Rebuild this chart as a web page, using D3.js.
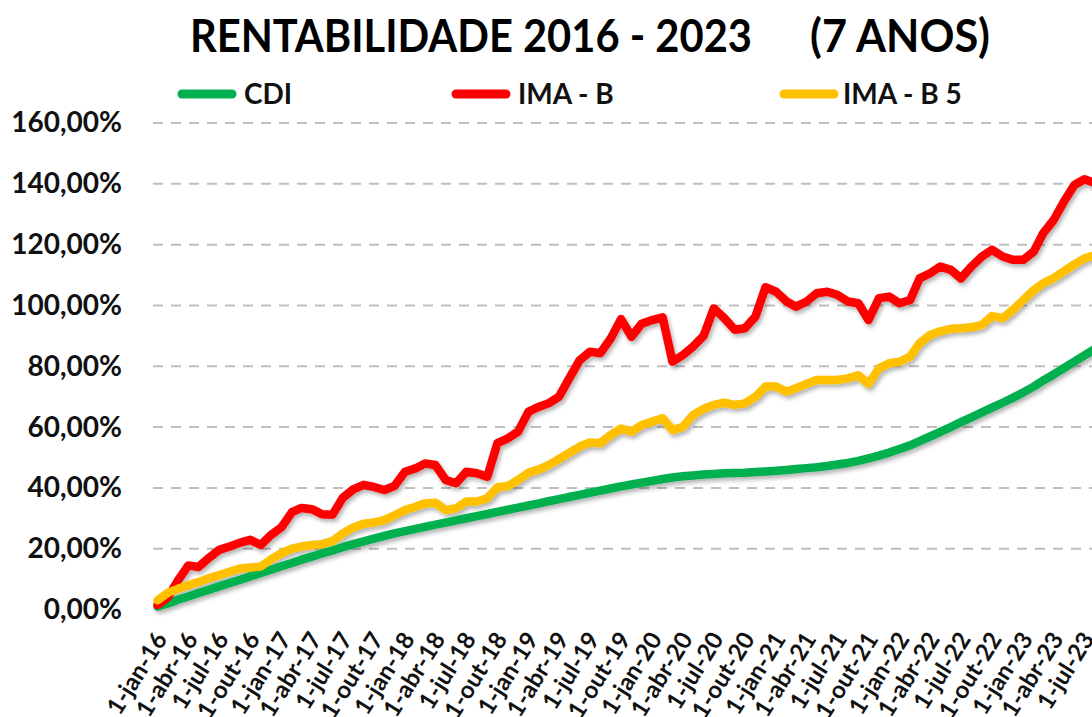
<!DOCTYPE html>
<html>
<head>
<meta charset="utf-8">
<script src="https://cdn.jsdelivr.net/npm/d3@7"></script>
<style>
  body { margin: 0; background: #fff; }
  svg { display: block; font-family: Lato, 'Open Sans', sans-serif; }
</style>
</head>
<body>
<div id="chart"></div>
<script>
// dados (% acumulado, mensal jan-16 .. ago-23)
const monthNames = ['jan', 'fev', 'mar', 'abr', 'mai', 'jun', 'jul', 'ago', 'set', 'out', 'nov', 'dez'];
const months = d3.timeMonth.range(new Date(2016, 0, 1), new Date(2023, 8, 1));

const cdi = [
  1.0, 2.0, 3.2, 4.3, 5.4, 6.5, 7.6, 8.7, 9.8, 10.9, 12.0, 13.1,
  14.2, 15.3, 16.4, 17.4, 18.4, 19.4, 20.5, 21.5, 22.4, 23.3, 24.2, 25.0,
  25.8, 26.5, 27.2, 27.9, 28.6, 29.3, 30.0, 30.7, 31.4, 32.1, 32.8, 33.5,
  34.2, 34.9, 35.6, 36.3, 37.0, 37.7, 38.4, 39.1, 39.8, 40.5, 41.1, 41.7,
  42.3, 42.9, 43.4, 43.8, 44.1, 44.4, 44.6, 44.8, 44.9, 45.0, 45.2, 45.4,
  45.6, 45.9, 46.2, 46.5, 46.8, 47.2, 47.7, 48.2, 48.9, 49.7, 50.6, 51.6,
  52.8, 54.0, 55.4, 56.9, 58.4, 60.0, 61.6, 63.2, 64.8, 66.4, 68.0, 69.6,
  71.4, 73.3, 75.3, 77.3, 79.4, 81.5, 83.6, 85.7,
];

const imaB = [
  1.5, 4.0, 9.5, 14.5, 14.0, 17.0, 19.6, 20.7, 22.0, 22.9, 21.2, 24.5,
  27.0, 32.0, 33.4, 33.0, 31.3, 31.2, 36.7, 39.5, 41.0, 40.3, 39.3, 40.6,
  45.3, 46.4, 48.0, 47.5, 42.6, 41.5, 45.3, 44.8, 43.7, 54.7, 56.3, 58.5,
  65.1, 66.7, 67.8, 70.0, 76.0, 82.0, 84.8, 84.3, 89.2, 95.5, 89.7, 94.0,
  95.2, 96.1, 81.5, 83.7, 86.5, 90.0, 99.0, 95.8, 92.0, 92.5, 96.3, 106.0,
  104.5, 101.3, 99.6, 101.3, 104.0, 104.5, 103.5, 101.3, 100.7, 95.2, 102.4, 102.9,
  100.7, 101.8, 108.9, 110.6, 112.8, 111.7, 108.9, 112.8, 116.1, 118.3, 116.1, 115.0,
  115.0, 117.7, 123.8, 128.1, 134.1, 139.6, 141.5, 140.3,
];

const imaB5 = [
  3.0, 5.5, 6.8, 8.0, 9.0, 10.3, 11.3, 12.4, 13.5, 13.8, 14.1, 16.5,
  18.5, 20.0, 20.7, 21.2, 21.5, 22.5, 25.0, 27.0, 28.2, 28.6, 29.4, 31.0,
  32.7, 33.8, 34.9, 35.1, 32.7, 33.3, 35.5, 35.5, 36.6, 40.2, 40.6, 42.6,
  45.0, 46.1, 47.5, 49.5, 51.5, 53.6, 54.9, 54.7, 57.4, 59.5, 58.5, 60.7,
  61.8, 62.9, 59.0, 60.1, 64.0, 66.0, 67.3, 68.0, 67.3, 67.8, 70.0, 73.3,
  73.3, 71.6, 72.8, 74.2, 75.5, 75.5, 75.5, 76.0, 77.0, 74.2, 79.3, 81.0,
  81.5, 83.2, 87.6, 90.3, 91.5, 92.3, 92.5, 92.8, 93.6, 96.5, 95.8, 98.5,
  101.8, 105.0, 107.3, 109.0, 111.2, 113.5, 115.5, 116.5,
];

const seriesNames = ['CDI', 'IMA - B', 'IMA - B 5'];
const seriesColors = ['#00b050', '#ff0000', '#ffc000'];
const yTicks = [0, 20, 40, 60, 80, 100, 120, 140, 160];

const W = 1092;
const H = 717;

const svg = d3
  .select('#chart')
  .append('svg')
  .attr('width', W)
  .attr('height', H);

// sombra das linhas
const filter = svg.append('defs').append('filter')
  .attr('id', 'shadow')
  .attr('x', '-5%').attr('y', '-5%')
  .attr('width', '110%').attr('height', '120%');
filter.append('feDropShadow')
  .attr('dx', 2).attr('dy', 3)
  .attr('stdDeviation', 2)
  .attr('flood-color', '#000')
  .attr('flood-opacity', 0.3);

const xScale = d3.scaleTime()
  .domain([new Date(2016, 0, 1), new Date(2023, 6, 1)])
  .range([157.5, 1084.5]);
const yScale = d3.scaleLinear().domain([0, 160]).range([609.5, 123]);

const ptBR = d3.formatLocale({ decimal: ',', thousands: '.', grouping: [3], currency: ['R$', ''] });
const pct = (d) => `${ptBR.format(',.2f')(d)}%`;

// titulo
svg.append('text')
  .attr('x', 190).attr('y', 52)
  .attr('textLength', 562)
  .attr('lengthAdjust', 'spacingAndGlyphs')
  .style('font-size', '45px').style('font-weight', 700)
  .text('RENTABILIDADE 2016 - 2023');
svg.append('text')
  .attr('x', 810).attr('y', 52)
  .attr('textLength', 180)
  .attr('lengthAdjust', 'spacingAndGlyphs')
  .style('font-size', '45px').style('font-weight', 700)
  .text('(7 ANOS)');

// legenda
const legendX = [178, 452, 780];
const legend = svg.append('g')
  .selectAll('g')
  .data(seriesNames)
  .join('g')
  .attr('transform', (d, i) => `translate(${legendX[i]}, 94)`);
legend.append('line')
  .attr('x1', 4).attr('x2', 54)
  .attr('stroke', (d, i) => seriesColors[i])
  .attr('stroke-width', 9)
  .attr('stroke-linecap', 'round');
legend.append('text')
  .attr('x', (d, i) => (i === 2 ? 63 : 66))
  .attr('y', 10)
  .style('font-size', '28px').style('font-weight', 700)
  .attr('fill', '#111')
  .text((d) => d);

// grade
svg.append('g')
  .selectAll('line')
  .data(yTicks.filter((d) => d > 0))
  .join('line')
  .attr('x1', 153).attr('x2', W)
  .attr('y1', (d) => yScale(d)).attr('y2', (d) => yScale(d))
  .attr('stroke', '#bfbfbf')
  .attr('stroke-width', 2)
  .attr('stroke-dasharray', '10,8');

// eixo y
const yAxis = d3.axisLeft(yScale).tickValues(yTicks).tickFormat(pct).tickSize(0).tickPadding(0);
svg.append('g')
  .attr('transform', 'translate(122, 0)')
  .call(yAxis)
  .call((g) => g.select('.domain').remove())
  .selectAll('text')
  .attr('fill', '#111')
  .style('font-family', 'Lato, sans-serif')
  .style('font-size', '28px')
  .style('font-weight', 700);

// eixo x
const quarterTicks = months.filter((d) => d.getMonth() % 3 === 0);
const fmtMonth = (d) => `1-${monthNames[d.getMonth()]}-${String(d.getFullYear()).slice(2)}`;
const xAxis = d3.axisBottom(xScale).tickValues(quarterTicks).tickFormat(fmtMonth).tickSize(0);
svg.append('g')
  .attr('transform', `translate(0, ${yScale(0)})`)
  .call(xAxis)
  .call((g) => g.select('.domain').remove())
  .selectAll('text')
  .attr('x', 0).attr('y', 0).attr('dy', '0.35em')
  .attr('text-anchor', 'end')
  .attr('transform', 'translate(3, 25) rotate(-58)')
  .attr('fill', '#111')
  .style('font-family', 'Lato, sans-serif')
  .style('font-size', '24px')
  .style('font-weight', 700);

// linhas
const allSeries = [cdi, imaB, imaB5];
const line = d3.line()
  .x((d, i) => xScale(months[i]))
  .y((d) => yScale(d));

svg.append('g')
  .attr('filter', 'url(#shadow)')
  .selectAll('path')
  .data(allSeries)
  .join('path')
  .attr('d', line)
  .attr('fill', 'none')
  .attr('stroke', (d, i) => seriesColors[i])
  .attr('stroke-width', 8.5)
  .attr('stroke-linejoin', 'round')
  .attr('stroke-linecap', 'round');
</script>
</body>
</html>
